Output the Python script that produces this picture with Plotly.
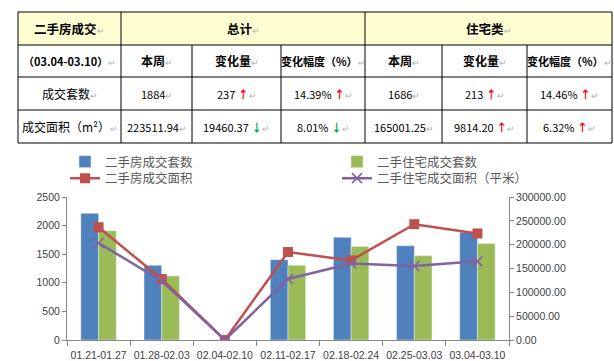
import plotly.graph_objects as go

# ---------------- data ----------------
weeks = ["01.21-01.27", "01.28-02.03", "02.04-02.10", "02.11-02.17",
         "02.18-02.24", "02.25-03.03", "03.04-03.10"]
all_units = [2215, 1305, 0, 1405, 1795, 1647, 1884]          # 二手房成交套数
res_units = [1910, 1120, 0, 1305, 1635, 1473, 1686]          # 二手住宅成交套数
all_area = [236500, 128000, 0, 184500, 167000, 242972.31, 223511.94]   # 二手房成交面积
res_area = [203500, 124000, 0, 128000, 160500, 155187.05, 165001.25]   # 二手住宅成交面积

series_names = ["二手房成交套数", "二手住宅成交套数", "二手房成交面积", "二手住宅成交面积（平米）"]

# table
header_top = ["二手房成交", "总计", "住宅类"]
header_sub = ["（03.04-03.10）", "本周", "变化量", "变化幅度（%）", "本周", "变化量", "变化幅度（%）"]
row_labels = ["成交套数", "成交面积（m²）"]
total_week = ["1884", "223511.94"]
total_change = ["237", "19460.37"]
total_pct = ["14.39%", "8.01%"]
res_week = ["1686", "165001.25"]
res_change = ["213", "9814.20"]
res_pct = ["14.46%", "6.32%"]
total_dir = ["up", "down"]
res_dir = ["up", "up"]

# ---------------- layout helpers ----------------
W, H = 614, 361
def px(x):
    return x / W
def py(y):
    return 1 - y / H

BLUE, GREEN, RED, PURPLE = "#4F81BD", "#9BBB59", "#C0504D", "#8064A2"
AX = "#868686"
TXT = "#404040"

fig = go.Figure()
fig.add_trace(go.Bar(x=weeks, y=all_units, name=series_names[0], marker_color=BLUE,
                     legend="legend", yaxis="y"))
fig.add_trace(go.Bar(x=weeks, y=res_units, name=series_names[1], marker_color=GREEN,
                     legend="legend3", yaxis="y"))
fig.add_trace(go.Scatter(x=weeks, y=all_area, name=series_names[2], mode="lines+markers",
                         line=dict(color=RED, width=2.5),
                         marker=dict(symbol="square", size=10, color=RED),
                         legend="legend2", yaxis="y2"))
fig.add_trace(go.Scatter(x=weeks, y=res_area, name=series_names[3], mode="lines+markers",
                         line=dict(color=PURPLE, width=2.5),
                         marker=dict(symbol="x-thin", size=10, color=PURPLE,
                                     line=dict(color=PURPLE, width=1.5)),
                         legend="legend4", yaxis="y2"))

# ---------------- table (shapes + text) ----------------
cx = [18, 121, 192, 281, 365, 442, 527, 612]
ry = [12, 45, 77, 110, 143]
shapes = []
shapes.append(dict(type="rect", xref="paper", yref="paper", x0=px(cx[0]), x1=px(cx[-1]),
                   y0=py(ry[0]), y1=py(ry[1]), fillcolor="#FFFFD2", line=dict(width=0), layer="below"))
for y in ry:
    shapes.append(dict(type="line", xref="paper", yref="paper", x0=px(cx[0]), x1=px(cx[-1]),
                       y0=py(y), y1=py(y), line=dict(color="black", width=1)))
for i, x in enumerate(cx):
    top = ry[0] if i in (0, 1, 4, 7) else ry[1]
    shapes.append(dict(type="line", xref="paper", yref="paper", x0=px(x), x1=px(x),
                       y0=py(top), y1=py(ry[-1]), line=dict(color="black", width=1)))

annotations = []
RET = "<span style='color:#b0b0b0;font-size:9px'>↵</span>"
FONT_T = "Noto Sans CJK SC"
def cell(text, x0, x1, y0, y1, bold=False, size=12):
    t = f"<b>{text}</b>" if bold else text
    annotations.append(dict(xref="paper", yref="paper", x=px((x0 + x1) / 2), y=py((y0 + y1) / 2),
                            text=t + RET, showarrow=False, xanchor="center", yanchor="middle",
                            font=dict(family=FONT_T, size=size, color="black")))

merged = [(cx[0], cx[1]), (cx[1], cx[4]), (cx[4], cx[7])]
for txt, (a, b) in zip(header_top, merged):
    cell(txt, a, b, ry[0], ry[1], bold=True, size=12.5)
for i, txt in enumerate(header_sub):
    cell(txt, cx[i], cx[i + 1], ry[1], ry[2], bold=True, size=12 if i in (1, 2, 4, 5) else 11)

def arrow(d):
    if d == "up":
        return " <span style='color:#FF0000'><b>↑</b></span>"
    return " <span style='color:#00A651'><b>↓</b></span>"

for r in range(2):
    y0, y1 = ry[2 + r], ry[3 + r]
    vals = [row_labels[r], total_week[r], total_change[r] + arrow(total_dir[r]),
            total_pct[r] + arrow(total_dir[r]), res_week[r],
            res_change[r] + arrow(res_dir[r]), res_pct[r] + arrow(res_dir[r])]
    for i, v in enumerate(vals):
        cell(v, cx[i], cx[i + 1], y0, y1, size=12 if i == 0 else 11)

# ---------------- layout ----------------
tickfont = dict(family="Liberation Sans", size=10.5, color=TXT)
legfont = dict(family=FONT_T, size=12.5, color="#595959")
def leg(xp, yp):
    return dict(x=px(xp), y=py(yp), xanchor="left", yanchor="top", orientation="v",
                font=legfont, tracegroupgap=0, bgcolor="rgba(0,0,0,0)", itemwidth=30)

fig.update_layout(
    width=W, height=H, margin=dict(l=0, r=0, t=0, b=0, autoexpand=False),
    paper_bgcolor="white", plot_bgcolor="white",
    barmode="group", bargap=0.44, bargroupgap=0,
    shapes=shapes, annotations=annotations,
    xaxis=dict(domain=[px(67), px(509)], showline=True, linecolor=AX, linewidth=1,
               ticks="outside", tickson="boundaries", ticklen=5, tickcolor=AX, tickangle=0,
               ticklabelstandoff=5, automargin=False, tickfont=tickfont, showgrid=False),
    yaxis=dict(domain=[py(340), py(197)], range=[0, 2500], dtick=500, showline=True,
               linecolor=AX, ticks="outside", ticklen=4, tickcolor=AX, showgrid=False,
               automargin=False, zeroline=False, tickfont=tickfont),
    yaxis2=dict(overlaying="y", side="right", anchor="x", range=[0, 300000], dtick=50000,
                tickformat=".2f", showline=True, linecolor=AX, ticks="outside", ticklen=4,
                automargin=False, tickcolor=AX, showgrid=False, zeroline=False, tickfont=tickfont),
    legend=leg(65, 147),
    legend2=leg(65, 163.5),
    legend3=leg(337, 147),
    legend4=leg(337, 163.5),
    showlegend=True,
)

fig.write_html("out.html", config={"displayModeBar": False},
               post_script="document.body.style.margin='0';document.body.style.overflow='hidden';")
